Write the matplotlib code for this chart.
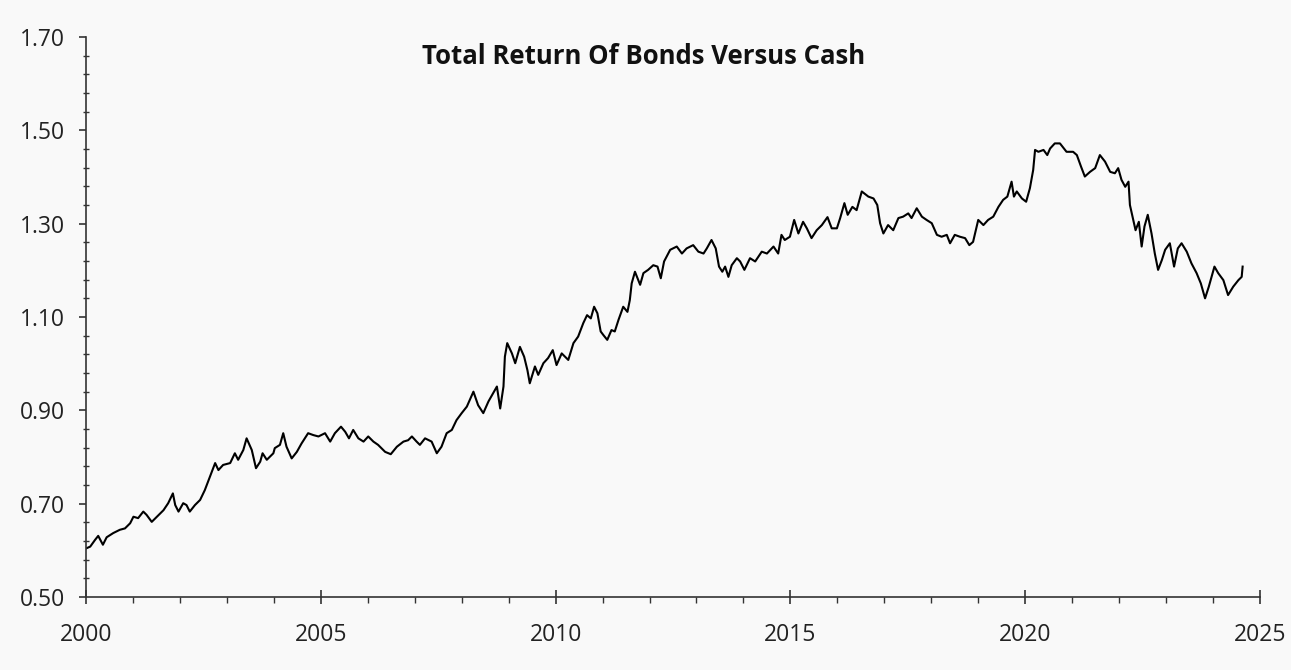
import matplotlib.pyplot as plt
from matplotlib.ticker import MultipleLocator, FixedLocator, FormatStrFormatter

# values (year, bonds/cash ratio)
years = [2000.00, 2000.09, 2000.19, 2000.26, 2000.36, 2000.44, 2000.58, 2000.72, 2000.83, 2000.94,
         2001.01, 2001.11, 2001.22, 2001.29, 2001.40, 2001.51, 2001.65, 2001.75, 2001.85, 2001.90, 2001.97,
         2002.07, 2002.14, 2002.21, 2002.32, 2002.43, 2002.53, 2002.64, 2002.75, 2002.82, 2002.92,
         2003.07, 2003.17, 2003.24, 2003.35, 2003.42, 2003.53, 2003.62, 2003.71, 2003.76, 2003.85, 2003.99,
         2004.02, 2004.13, 2004.20, 2004.27, 2004.38, 2004.49, 2004.59, 2004.73, 2004.84, 2004.95,
         2005.09, 2005.20, 2005.30, 2005.43, 2005.52, 2005.60, 2005.69, 2005.80, 2005.91,
         2006.01, 2006.12, 2006.22, 2006.37, 2006.49, 2006.62, 2006.76, 2006.86, 2006.94,
         2007.04, 2007.11, 2007.22, 2007.36, 2007.47, 2007.57, 2007.68, 2007.79, 2007.89,
         2008.00, 2008.11, 2008.25, 2008.35, 2008.46, 2008.57, 2008.67, 2008.75, 2008.82, 2008.89, 2008.92, 2008.97,
         2009.07, 2009.14, 2009.24, 2009.33, 2009.40, 2009.45, 2009.56, 2009.63, 2009.74, 2009.84, 2009.94,
         2010.02, 2010.13, 2010.27, 2010.38, 2010.48, 2010.59, 2010.67, 2010.75, 2010.82, 2010.89, 2010.96,
         2011.02, 2011.10, 2011.19, 2011.26, 2011.34, 2011.44, 2011.53, 2011.58, 2011.62, 2011.69, 2011.80, 2011.87, 2011.97,
         2012.08, 2012.17, 2012.24, 2012.31, 2012.44, 2012.58, 2012.69, 2012.79, 2012.93,
         2013.04, 2013.15, 2013.22, 2013.32, 2013.41, 2013.48, 2013.55, 2013.61, 2013.68, 2013.75, 2013.86, 2013.93,
         2014.02, 2014.14, 2014.25, 2014.39, 2014.50, 2014.64, 2014.74, 2014.81, 2014.88, 2014.99,
         2015.08, 2015.17, 2015.27, 2015.35, 2015.45, 2015.56, 2015.67, 2015.79, 2015.88, 2015.99,
         2016.06, 2016.15, 2016.22, 2016.32, 2016.41, 2016.52, 2016.66, 2016.77, 2016.85, 2016.91, 2016.98,
         2017.08, 2017.19, 2017.30, 2017.40, 2017.51, 2017.58, 2017.69, 2017.80, 2017.90,
         2018.01, 2018.12, 2018.22, 2018.33, 2018.40, 2018.50, 2018.61, 2018.72, 2018.81, 2018.89,
         2019.00, 2019.11, 2019.21, 2019.32, 2019.43, 2019.53, 2019.62, 2019.71, 2019.76, 2019.82, 2019.93,
         2020.02, 2020.10, 2020.17, 2020.21, 2020.28, 2020.39, 2020.47, 2020.53, 2020.63, 2020.74, 2020.88,
         2021.02, 2021.10, 2021.19, 2021.27, 2021.38, 2021.49, 2021.59, 2021.70, 2021.81, 2021.91, 2021.98,
         2022.05, 2022.13, 2022.20, 2022.23, 2022.30, 2022.35, 2022.42, 2022.48, 2022.54, 2022.61, 2022.69,
         2022.76, 2022.83, 2022.91, 2022.98,
         2023.08, 2023.17, 2023.25, 2023.33, 2023.44, 2023.54, 2023.65, 2023.74, 2023.83, 2023.91,
         2024.03, 2024.11, 2024.22, 2024.32, 2024.43, 2024.54, 2024.61, 2024.63]

ratio = [0.604, 0.608, 0.622, 0.631, 0.612, 0.628, 0.637, 0.644, 0.647, 0.658,
         0.672, 0.669, 0.683, 0.676, 0.661, 0.672, 0.686, 0.701, 0.722, 0.697, 0.683,
         0.701, 0.697, 0.683, 0.697, 0.708, 0.729, 0.758, 0.787, 0.772, 0.783,
         0.787, 0.808, 0.794, 0.815, 0.840, 0.815, 0.776, 0.790, 0.808, 0.794, 0.808,
         0.819, 0.826, 0.851, 0.822, 0.797, 0.811, 0.829, 0.851, 0.847, 0.844,
         0.851, 0.833, 0.851, 0.865, 0.854, 0.840, 0.858, 0.840, 0.833,
         0.844, 0.833, 0.826, 0.811, 0.806, 0.822, 0.833, 0.836, 0.844,
         0.833, 0.826, 0.840, 0.833, 0.808, 0.822, 0.851, 0.858, 0.879,
         0.894, 0.908, 0.940, 0.911, 0.894, 0.919, 0.937, 0.951, 0.904, 0.951, 1.015, 1.044,
         1.022, 1.001, 1.036, 1.015, 0.986, 0.958, 0.994, 0.976, 1.001, 1.012, 1.029,
         0.997, 1.022, 1.008, 1.044, 1.058, 1.087, 1.104, 1.097, 1.122, 1.108, 1.069,
         1.061, 1.051, 1.072, 1.069, 1.094, 1.122, 1.111, 1.136, 1.172, 1.197, 1.169, 1.194, 1.201,
         1.211, 1.208, 1.183, 1.219, 1.244, 1.251, 1.236, 1.247, 1.254,
         1.240, 1.236, 1.247, 1.265, 1.247, 1.208, 1.197, 1.208, 1.186, 1.211, 1.226, 1.219,
         1.201, 1.226, 1.219, 1.240, 1.236, 1.251, 1.236, 1.276, 1.265, 1.272,
         1.308, 1.279, 1.304, 1.290, 1.269, 1.286, 1.297, 1.314, 1.290, 1.290,
         1.312, 1.344, 1.319, 1.336, 1.329, 1.369, 1.358, 1.354, 1.340, 1.301, 1.279,
         1.297, 1.286, 1.312, 1.315, 1.322, 1.312, 1.333, 1.315, 1.308,
         1.301, 1.276, 1.272, 1.276, 1.258, 1.276, 1.272, 1.269, 1.254, 1.261,
         1.308, 1.297, 1.308, 1.315, 1.336, 1.351, 1.358, 1.390, 1.358, 1.369, 1.354,
         1.347, 1.376, 1.415, 1.458, 1.454, 1.458, 1.447, 1.461, 1.472, 1.472, 1.454,
         1.454, 1.447, 1.422, 1.401, 1.411, 1.419, 1.447, 1.433, 1.411, 1.408, 1.419,
         1.394, 1.379, 1.390, 1.340, 1.308, 1.286, 1.304, 1.251, 1.294, 1.319, 1.279,
         1.236, 1.201, 1.222, 1.244,
         1.258, 1.208, 1.247, 1.258, 1.240, 1.215, 1.194, 1.172, 1.140, 1.165,
         1.208, 1.194, 1.179, 1.147, 1.165, 1.179, 1.186, 1.208]

yticks = [0.50, 0.70, 0.90, 1.10, 1.30, 1.50, 1.70]
xticks = [2000, 2005, 2010, 2015, 2020, 2025]
title = "Total Return Of Bonds Versus Cash"
bg = "#f9f9f9"

plt.rcParams["font.family"] = ["Open Sans", "DejaVu Sans"]

fig = plt.figure(figsize=(12.91, 6.70), dpi=100, facecolor=bg)
ax = fig.add_axes([86/1291, 1-597/670, (1260-86)/1291, (597-37)/670])
ax.set_facecolor(bg)

ax.plot(years, ratio, color="black", lw=1.5)

ax.set_xlim(xticks[0], xticks[-1])
ax.set_ylim(yticks[0], yticks[-1])
ax.xaxis.set_major_locator(FixedLocator(xticks))
ax.xaxis.set_minor_locator(MultipleLocator(1))
ax.yaxis.set_major_locator(FixedLocator(yticks))
ax.yaxis.set_minor_locator(MultipleLocator(0.04, offset=0.02))
ax.yaxis.set_major_formatter(FormatStrFormatter("%.2f"))

for s in ["top", "right"]:
    ax.spines[s].set_visible(False)
for s in ["left", "bottom"]:
    ax.spines[s].set_color("#333333")
    ax.spines[s].set_linewidth(1.2)

ax.tick_params(axis="x", which="major", direction="inout", length=10, width=1.2,
               color="#333333", labelsize=16.5, labelcolor="#222222", pad=14)
ax.tick_params(axis="x", which="minor", direction="out", length=4, width=1.0, color="#333333")
ax.tick_params(axis="y", which="major", direction="out", length=5, width=1.2,
               color="#333333", labelsize=16.5, labelcolor="#222222", pad=10)
ax.tick_params(axis="y", which="minor", direction="inout", length=4, width=1.0, color="#333333")

ax.text(0.475, 0.965, title, transform=ax.transAxes, ha="center", va="center",
        fontsize=18.5, fontweight="bold", color="#111111")

fig.savefig("out.png", dpi=100, facecolor=bg)
